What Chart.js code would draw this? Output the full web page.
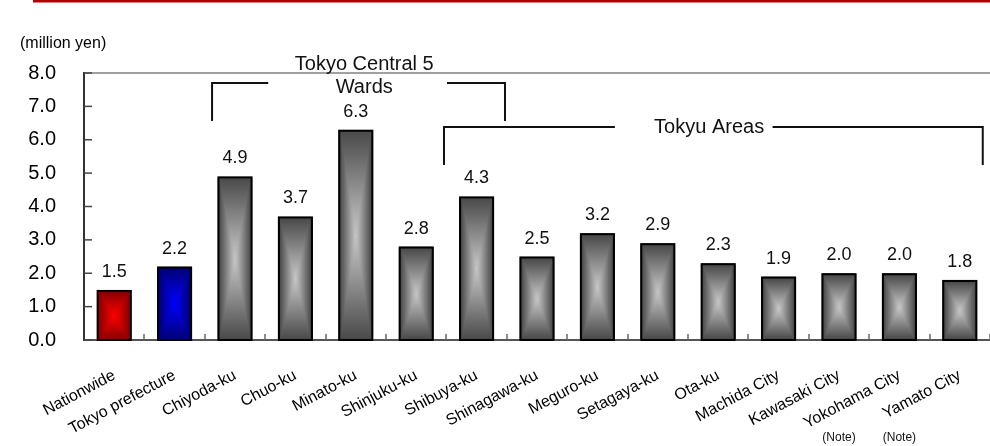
<!DOCTYPE html>
<html>

<head>
    <meta charset="utf-8">
    <script src="https://cdn.jsdelivr.net/npm/chart.js"></script>
    <style>
        body { margin: 0; background: #fff; }
        #wrap { width: 990px; height: 446px; position: relative; }
    </style>
</head>

<body>
    <div id="wrap">
        <canvas id="price"></canvas>
    </div>

    <script>
        // average price per area (million yen)
        var areas = ['Nationwide', 'Tokyo prefecture', 'Chiyoda-ku', 'Chuo-ku', 'Minato-ku', 'Shinjuku-ku',
            'Shibuya-ku', 'Shinagawa-ku', 'Meguro-ku', 'Setagaya-ku', 'Ota-ku', 'Machida City',
            'Kawasaki City', 'Yokohama City', 'Yamato City'];
        var prices = [1.5, 2.2, 4.9, 3.7, 6.3, 2.8, 4.3, 2.5, 3.2, 2.9, 2.3, 1.9, 2.0, 2.0, 1.8];
        var yTicks = [0, 1, 2, 3, 4, 5, 6, 7, 8];
        var noteAreas = ['Kawasaki City', 'Yokohama City'];

        // bracket groups, in category index / value units
        var groupLabels = [['Tokyo Central 5', 'Wards'], ['Tokyu Areas']];
        var groupSpans = [[1.62, 6.47], [5.46, 14.38]];
        var groupGaps = [[2.55, 5.51], [8.29, 10.90]];
        var groupLevels = [[7.7, 6.56], [6.38, 5.24]];
        var groupTextAt = [4.14, 9.85];

        var FONT = "'Liberation Sans', Arial, sans-serif";

        function barColors(i) {
            if (i == 0) return ['#870000', '#ff0000'];
            if (i == 1) return ['#000075', '#0000ff'];
            return ['#4a4a4a', '#c8c8c8'];
        }

        // rectangular "from centre" gradient: four triangles meeting in the middle
        function paintBar(ctx, x0, y0, x1, y1, edge, mid) {
            var cx = (x0 + x1) / 2, cy = (y0 + y1) / 2;
            var tris = [
                [[x0, y0], [x1, y0], [cx, y0]],
                [[x0, y1], [x1, y1], [cx, y1]],
                [[x0, y0], [x0, y1], [x0, cy]],
                [[x1, y0], [x1, y1], [x1, cy]]
            ];
            tris.forEach(function (t) {
                var g = ctx.createLinearGradient(t[2][0], t[2][1], cx, cy);
                g.addColorStop(0, edge);
                g.addColorStop(1, mid);
                ctx.beginPath();
                ctx.moveTo(t[0][0], t[0][1]);
                ctx.lineTo(t[1][0], t[1][1]);
                ctx.lineTo(cx, cy);
                ctx.closePath();
                ctx.fillStyle = g;
                ctx.fill();
                ctx.strokeStyle = g;
                ctx.lineWidth = 0.6;
                ctx.stroke();
            });
        }

        var decor = {
            id: 'decor',
            beforeDraw: function (chart) {
                var ctx = chart.ctx;
                ctx.save();
                ctx.fillStyle = '#b40000';
                ctx.fillRect(33, 0, chart.width - 33, 2.5);
                ctx.fillStyle = '#000';
                ctx.font = '16px ' + FONT;
                ctx.textAlign = 'left';
                ctx.textBaseline = 'middle';
                ctx.fillText('(million yen)', 20, 44);
                ctx.restore();
            },
            afterDatasetsDraw: function (chart) {
                var ctx = chart.ctx;
                var meta = chart.getDatasetMeta(0);
                ctx.save();
                meta.data.forEach(function (bar, i) {
                    var half = bar.width / 2;
                    var c = barColors(i);
                    var x0 = bar.x - half, x1 = bar.x + half;
                    var top = Math.min(bar.y, bar.base), bot = Math.max(bar.y, bar.base);
                    paintBar(ctx, x0 + 2, top + 2, x1 - 2, bot, c[0], c[1]);
                    ctx.strokeStyle = '#000';
                    ctx.lineWidth = 2;
                    ctx.strokeRect(x0 + 1, top + 1, half * 2 - 2, bot - top);
                    // value above the bar
                    ctx.fillStyle = '#111';
                    ctx.font = '18px ' + FONT;
                    ctx.textAlign = 'center';
                    ctx.textBaseline = 'middle';
                    ctx.fillText(prices[i].toFixed(1), bar.x, top - 18);
                });
                ctx.restore();
            },
            afterDraw: function (chart) {
                var ctx = chart.ctx;
                var xs = chart.scales.x, ys = chart.scales.y;
                var area = chart.chartArea;
                ctx.save();

                // inward ticks on both axes
                ctx.strokeStyle = '#444';
                ctx.lineWidth = 1.5;
                yTicks.forEach(function (v) {
                    var py = ys.getPixelForValue(v);
                    ctx.beginPath();
                    ctx.moveTo(area.left, py);
                    ctx.lineTo(area.left + 8, py);
                    ctx.stroke();
                });
                ctx.strokeStyle = '#666';
                for (var k = 1; k <= areas.length; k++) {
                    var px = Math.round(xs.getPixelForValue(k - 0.5));
                    ctx.beginPath();
                    ctx.moveTo(px, area.bottom);
                    ctx.lineTo(px, area.bottom - 6);
                    ctx.stroke();
                }

                // notes under the city labels
                ctx.fillStyle = '#111';
                ctx.font = '12px ' + FONT;
                ctx.textAlign = 'center';
                ctx.textBaseline = 'middle';
                noteAreas.forEach(function (name) {
                    ctx.fillText('(Note)', xs.getPixelForValue(areas.indexOf(name)), 438);
                });

                // group brackets
                ctx.strokeStyle = '#111';
                ctx.lineWidth = 2;
                groupLabels.forEach(function (lines, g) {
                    var xl = xs.getPixelForValue(groupSpans[g][0]);
                    var xr = xs.getPixelForValue(groupSpans[g][1]);
                    var ga = xs.getPixelForValue(groupGaps[g][0]);
                    var gb = xs.getPixelForValue(groupGaps[g][1]);
                    var yt = ys.getPixelForValue(groupLevels[g][0]);
                    var yb = ys.getPixelForValue(groupLevels[g][1]);
                    ctx.beginPath();
                    ctx.moveTo(xl, yb);
                    ctx.lineTo(xl, yt);
                    ctx.lineTo(ga, yt);
                    ctx.moveTo(gb, yt);
                    ctx.lineTo(xr, yt);
                    ctx.lineTo(xr, yb);
                    ctx.stroke();

                    ctx.font = '20px ' + FONT;
                    var tx = xs.getPixelForValue(groupTextAt[g]);
                    if (lines.length == 2) {
                        ctx.fillText(lines[0], tx, yt - 19);
                        ctx.fillText(lines[1], tx, yt + 4);
                    } else {
                        ctx.fillText(lines[0], tx, yt);
                    }
                });
                ctx.restore();
            }
        };

        var ctx = document.getElementById('price').getContext('2d');
        var priceChart = new Chart(ctx, {
            type: 'bar',
            data: {
                labels: areas,
                datasets: [{
                    label: 'Price',
                    data: prices,
                    backgroundColor: prices.map(function (p, i) { return barColors(i)[0]; }),
                    borderColor: '#000',
                    borderWidth: 2,
                    barPercentage: 0.58,
                    categoryPercentage: 1.0
                }]
            },
            options: {
                responsive: true,
                maintainAspectRatio: false,
                animation: false,
                layout: { padding: { top: 73, right: 0, left: 0, bottom: 0 } },
                plugins: {
                    legend: { display: false },
                    tooltip: { enabled: false }
                },
                scales: {
                    x: {
                        grid: { display: false },
                        border: { color: '#555', width: 2 },
                        ticks: {
                            autoSkip: false,
                            minRotation: 28,
                            maxRotation: 28,
                            padding: 18,
                            color: '#000',
                            font: { family: FONT, size: 16 }
                        },
                        afterFit: function (scale) { scale.height = 106; }
                    },
                    y: {
                        min: 0,
                        max: 8,
                        border: { color: '#333', width: 2 },
                        grid: {
                            drawTicks: false,
                            lineWidth: 2,
                            color: function (c) { return c.tick && c.tick.value == 8 ? '#a0a0a0' : 'rgba(0,0,0,0)'; }
                        },
                        ticks: {
                            stepSize: 1,
                            padding: 28,
                            color: '#000',
                            font: { family: FONT, size: 20 },
                            callback: function (v) { return Number(v).toFixed(1); }
                        },
                        afterFit: function (scale) { scale.width = 84; }
                    }
                }
            },
            plugins: [decor]
        });
    </script>

</body>

</html>
